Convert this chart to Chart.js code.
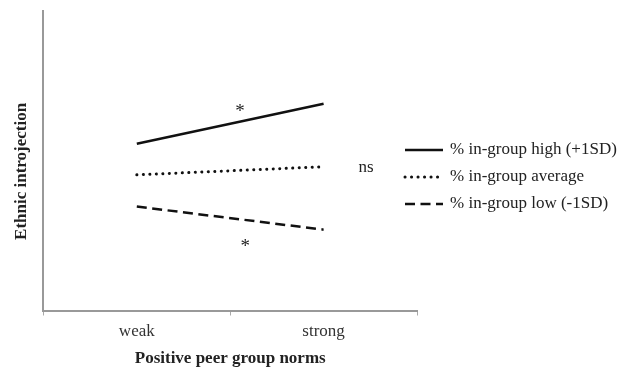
<!DOCTYPE html>
<html>
<head>
<meta charset="utf-8">
<script src="https://cdn.jsdelivr.net/npm/chart.js"></script>
<style>
  html, body { margin: 0; padding: 0; background: #fff; }
  #wrap { width: 632px; height: 367px; }
</style>
</head>
<body>
<div id="wrap"><canvas id="chart"></canvas></div>
<script>
    // categories and series (y scale 0..10, no visible ticks)
    const categories = ['weak', 'strong'];
    const highValues = [5.57, 6.9];
    const averageValues = [4.53, 4.8];
    const lowValues = [3.47, 2.7];
    const seriesLabels = ['% in-group high (+1SD)', '% in-group average', '% in-group low (-1SD)'];

    // significance notes: text, x (category index), y (value)
    const noteTexts = ['*', 'ns', '*'];
    const noteX = [0.553, 1.227, 0.58];
    const noteY = [6.63, 4.77, 2.13];

    const serif = '"Liberation Serif", "Times New Roman", serif';

    // legend drawn on canvas, overlapping the right end of the plot like the original
    const sideLegend = {
        id: 'sideLegend',
        afterDraw(chart) {
            const ctx = chart.ctx;
            const rows = [150, 177, 204];
            ctx.save();
            chart.data.datasets.forEach(function (ds, i) {
                const y = rows[i];
                ctx.beginPath();
                ctx.strokeStyle = ds.borderColor;
                ctx.lineWidth = ds.borderWidth;
                ctx.lineCap = ds.borderCapStyle || 'butt';
                ctx.setLineDash(ds.borderDash || []);
                ctx.moveTo(405, y);
                ctx.lineTo(443, y);
                ctx.stroke();
                ctx.setLineDash([]);
                ctx.fillStyle = '#222';
                ctx.font = '17px ' + serif;
                ctx.textBaseline = 'middle';
                ctx.textAlign = 'left';
                ctx.fillText(ds.label, 450, y);
            });
            ctx.restore();
        }
    };

    const notes = {
        id: 'notes',
        afterDatasetsDraw(chart) {
            const ctx = chart.ctx;
            const xs = chart.scales.x, ys = chart.scales.y;
            ctx.save();
            ctx.fillStyle = '#222';
            ctx.textAlign = 'center';
            ctx.textBaseline = 'middle';
            noteTexts.forEach(function (t, i) {
                ctx.font = (t === '*' ? '19px ' : '17px ') + serif;
                ctx.fillText(t, xs.getPixelForValue(noteX[i]), ys.getPixelForValue(noteY[i]));
            });
            ctx.restore();
        }
    };

    new Chart(document.getElementById('chart'), {
        type: 'line',
        data: {
            labels: categories,
            datasets: [
                {
                    label: seriesLabels[0],
                    data: highValues,
                    borderColor: '#111',
                    borderWidth: 2.5,
                    pointRadius: 0
                },
                {
                    label: seriesLabels[1],
                    data: averageValues,
                    borderColor: '#111',
                    borderWidth: 3,
                    borderDash: [0.1, 6.4],
                    borderCapStyle: 'round',
                    pointRadius: 0
                },
                {
                    label: seriesLabels[2],
                    data: lowValues,
                    borderColor: '#111',
                    borderWidth: 2.5,
                    borderDash: [10, 5.5],
                    pointRadius: 0
                }
            ]
        },
        options: {
            responsive: true,
            maintainAspectRatio: false,
            animation: false,
            layout: { padding: { top: 11, right: 215, left: 10, bottom: 0 } },
            plugins: {
                legend: { display: false },
                tooltip: { enabled: false }
            },
            scales: {
                x: {
                    offset: true,
                    border: { color: '#999', width: 2 },
                    grid: { offset: true, drawOnChartArea: false, tickLength: 5, color: '#aaa', lineWidth: 1 },
                    ticks: { color: '#333', font: { family: serif, size: 17, lineHeight: 1 }, padding: 7.5 },
                    title: {
                        display: true,
                        text: 'Positive peer group norms',
                        color: '#222',
                        font: { family: serif, size: 17, weight: 'bold', lineHeight: 1 },
                        padding: { top: 2.5, bottom: 0 }
                    }
                },
                y: {
                    min: 0,
                    max: 10,
                    border: { color: '#999', width: 2 },
                    grid: { display: false, drawTicks: false },
                    ticks: { display: false },
                    title: {
                        display: true,
                        text: 'Ethnic introjection     ',
                        color: '#222',
                        font: { family: serif, size: 17, weight: 'bold' },
                        padding: { top: 1, bottom: 12 }
                    }
                }
            }
        },
        plugins: [notes, sideLegend]
    });
</script>
</body>
</html>
